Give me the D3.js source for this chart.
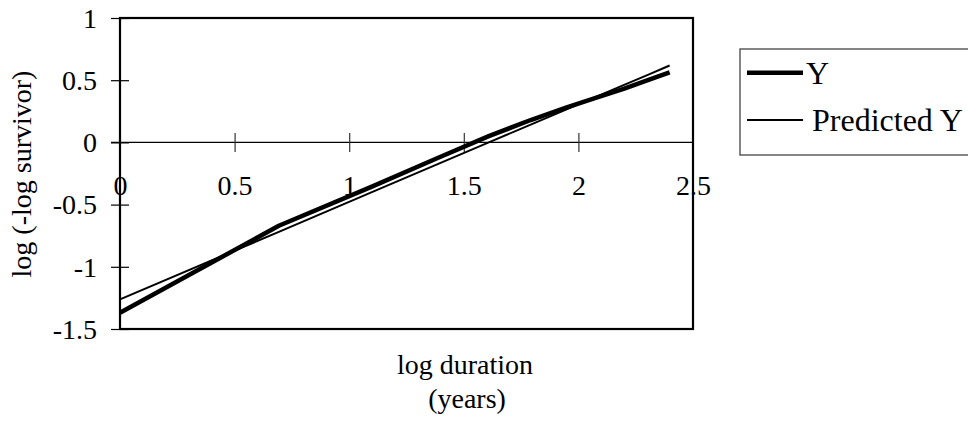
<!DOCTYPE html>
<html>
<head>
<meta charset="utf-8">
<script src="https://cdn.jsdelivr.net/npm/d3@7/dist/d3.min.js"></script>
<style>
  html, body { margin: 0; padding: 0; background: #fff; }
  svg { display: block; }
  text { font-family: "Liberation Serif", "Times New Roman", serif; fill: #000; }
</style>
</head>
<body>
<svg id="chart" width="968" height="424"></svg>
<script>
// log duration (ln of years 1..11)
const logDuration = [0, 0.693, 1.099, 1.386, 1.609, 1.792, 1.946, 2.079, 2.197, 2.303, 2.398];
// observed log(-log survivor)
const observedY = [-1.37, -0.67, -0.355, -0.125, 0.05, 0.18, 0.28, 0.36, 0.43, 0.50, 0.563];
// fitted values
const predictedY = [-1.262, -0.719, -0.4, -0.175, 0.0, 0.143, 0.264, 0.368, 0.46, 0.543, 0.618];

const xTicks = [0, 0.5, 1, 1.5, 2, 2.5];
const yTicks = [-1.5, -1, -0.5, 0, 0.5, 1];
const seriesNames = ["Y", "Predicted Y"];

const svg = d3.select("#chart");
const FONT = 28;
const LEGEND_FONT = 32;

const x = d3.scaleLinear().domain([0, 2.5]).range([120, 693]);
const y = d3.scaleLinear().domain([-1.5, 1]).range([329, 18]);

// zero line spanning the plot
svg.append("line")
  .attr("x1", 111).attr("x2", x(2.5))
  .attr("y1", y(0)).attr("y2", y(0))
  .attr("stroke", "#000").attr("stroke-width", 1.2);

// x axis along y = 0 with crossing ticks
const xAxis = svg.append("g")
  .attr("transform", `translate(0,${y(0)})`)
  .call(d3.axisBottom(x).tickValues(xTicks).tickFormat(d => String(d)).tickSize(9.5));
xAxis.select(".domain").remove();
xAxis.selectAll(".tick line")
  .attr("y1", -9.5).attr("y2", 9.5)
  .attr("stroke", d => (d === 0 || d === 2.5) ? "none" : "#333")
  .attr("stroke-width", 1.2);
xAxis.selectAll(".tick text")
  .attr("y", 195 - y(0)).attr("dy", 0)
  .attr("font-size", FONT)
  .style("font-family", '"Liberation Serif", "Times New Roman", serif')
  .attr("fill", "#000");

// y axis with crossing ticks
const yAxis = svg.append("g")
  .attr("transform", `translate(${x(0)},0)`)
  .call(d3.axisLeft(y).tickValues(yTicks).tickFormat(d => String(d)).tickSize(9).tickPadding(14));
yAxis.select(".domain").remove();
yAxis.selectAll(".tick line")
  .attr("x1", -9).attr("x2", 9)
  .attr("stroke", "#000").attr("stroke-width", 1.2);
yAxis.selectAll(".tick text")
  .attr("dy", "0.33em")
  .attr("font-size", FONT)
  .style("font-family", '"Liberation Serif", "Times New Roman", serif')
  .attr("fill", "#000");

// plot frame
svg.append("rect")
  .attr("x", x(0)).attr("y", y(1))
  .attr("width", x(2.5) - x(0)).attr("height", y(-1.5) - y(1))
  .attr("fill", "none").attr("stroke", "#000").attr("stroke-width", 2.2);

// series lines
const line = d3.line().x(d => x(d[0])).y(d => y(d[1]));
const observedPts = logDuration.map((d, i) => [d, observedY[i]]);
const predictedPts = logDuration.map((d, i) => [d, predictedY[i]]);

svg.append("path")
  .attr("d", line(predictedPts))
  .attr("fill", "none").attr("stroke", "#000").attr("stroke-width", 2);
svg.append("path")
  .attr("d", line(observedPts))
  .attr("fill", "none").attr("stroke", "#000").attr("stroke-width", 4.5)
  .attr("stroke-linejoin", "round");

// axis titles
svg.append("text")
  .attr("transform", "translate(31,174) rotate(-90)")
  .attr("text-anchor", "middle")
  .attr("font-size", FONT)
  .text("log (-log survivor)");

svg.append("text")
  .attr("x", 465).attr("y", 374)
  .attr("text-anchor", "middle")
  .attr("font-size", FONT)
  .text("log duration");
svg.append("text")
  .attr("x", 467).attr("y", 408)
  .attr("text-anchor", "middle")
  .attr("font-size", FONT)
  .text("(years)");

// legend
const legend = svg.append("g");
legend.append("rect")
  .attr("x", 740).attr("y", 49).attr("width", 232).attr("height", 106)
  .attr("fill", "#fff").attr("stroke", "#444").attr("stroke-width", 1.3);
const legendRows = [
  { name: seriesNames[0], width: 4.5, ly: 72.7, ty: 84, tx: 806 },
  { name: seriesNames[1], width: 2, ly: 120, ty: 131, tx: 812 }
];
legendRows.forEach(r => {
  legend.append("line")
    .attr("x1", 747).attr("x2", 803).attr("y1", r.ly).attr("y2", r.ly)
    .attr("stroke", "#000").attr("stroke-width", r.width);
  legend.append("text")
    .attr("x", r.tx).attr("y", r.ty)
    .attr("font-size", LEGEND_FONT)
    .text(r.name);
});
</script>
</body>
</html>
